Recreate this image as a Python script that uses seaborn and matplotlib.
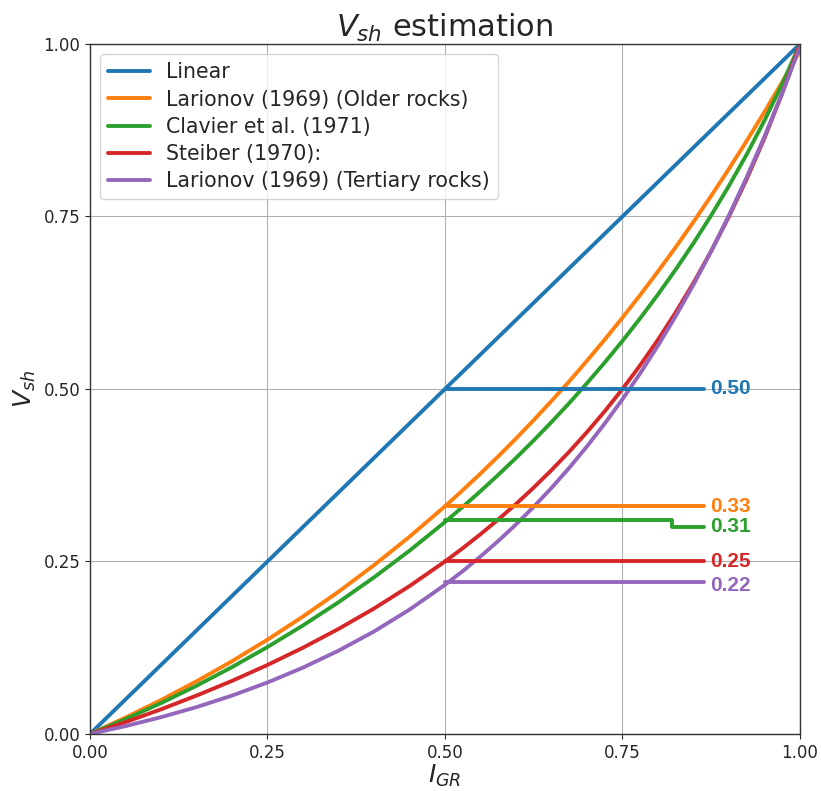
import pandas as pd
import matplotlib
matplotlib.use("Agg")
import matplotlib.pyplot as plt
import seaborn as sns

# IGR sample points and Vsh values
igr = [0.0, 0.05, 0.1, 0.15, 0.2, 0.25, 0.3, 0.35, 0.4, 0.45, 0.5,
       0.525, 0.55, 0.575, 0.6, 0.625, 0.65, 0.675, 0.7, 0.725, 0.75,
       0.775, 0.8, 0.825, 0.85, 0.875, 0.9, 0.925, 0.95, 0.975, 1.0]
linear = list(igr)
larionov_old = [0.0, 0.0237, 0.0491, 0.0763, 0.1054, 0.1367, 0.1702, 0.2061, 0.2446, 0.2858, 0.33,
                0.3533, 0.3774, 0.4023, 0.4281, 0.4549, 0.4826, 0.5110, 0.5409, 0.5716, 0.6034,
                0.6363, 0.6704, 0.7056, 0.7422, 0.7800, 0.8191, 0.8597, 0.9016, 0.9450, 0.99]
clavier = [0.0, 0.0215, 0.0447, 0.0698, 0.0969, 0.1260, 0.1573, 0.1909, 0.2269, 0.2656, 0.3072,
           0.3291, 0.3519, 0.3755, 0.4, 0.4255, 0.4520, 0.4796, 0.5084, 0.5384, 0.5697,
           0.6026, 0.6370, 0.6732, 0.7113, 0.7517, 0.7945, 0.8401, 0.8891, 0.9421, 1.0]
steiber = [0.0, 0.0172, 0.0357, 0.0556, 0.0769, 0.1, 0.125, 0.1522, 0.1818, 0.2143, 0.25,
           0.2692, 0.2895, 0.3108, 0.3333, 0.3571, 0.3824, 0.4091, 0.4375, 0.4677, 0.5,
           0.5345, 0.5714, 0.6111, 0.6538, 0.7, 0.75, 0.8043, 0.8636, 0.9286, 1.0]
larionov_tert = [0.0, 0.0114, 0.0243, 0.0389, 0.0556, 0.0746, 0.0962, 0.1207, 0.1485, 0.1802, 0.2162,
                 0.2360, 0.2572, 0.2797, 0.3037, 0.3293, 0.3566, 0.3857, 0.4168, 0.4499, 0.4851,
                 0.5228, 0.5629, 0.6056, 0.6512, 0.6998, 0.7517, 0.8070, 0.8659, 0.9287, 0.9957]

labels = ["Linear", "Larionov (1969) (Older rocks)", "Clavier et al. (1971)",
          "Steiber (1970):", "Larionov (1969) (Tertiary rocks)"]

# readings at IGR = 0.5
igr_pick = 0.5
vsh_pick = [0.50, 0.33, 0.31, 0.25, 0.22]
line_end = 0.865
green_step_x = 0.82
green_step_y = 0.30
label_y = [0.50, 0.33, 0.30, 0.25, 0.215]

colors = sns.color_palette("tab10", 5)

df = pd.concat([
    pd.DataFrame({"IGR": igr, "Vsh": vals, "method": name})
    for name, vals in zip(labels, [linear, larionov_old, clavier, steiber, larionov_tert])
])

sns.set_style("ticks")
fig = plt.figure(figsize=(8.21, 7.91), dpi=100)
ax = fig.add_axes([0.1096, 0.0721, 0.8648, 0.8723])

sns.lineplot(data=df, x="IGR", y="Vsh", hue="method", hue_order=labels,
             palette=colors, linewidth=2.8, sort=False, ax=ax)

# horizontal read-off lines from IGR = 0.5
for i, (v, c) in enumerate(zip(vsh_pick, colors)):
    if i == 2:
        xs = [igr_pick, green_step_x, green_step_x, line_end]
        ys = [v, v, green_step_y, green_step_y]
    else:
        xs = [igr_pick, line_end]
        ys = [v, v]
    ax.plot(xs, ys, color=c, linewidth=2.8)
    ax.text(line_end + 0.008, label_y[i], f"{v:.2f}", color=c, fontsize=15,
            fontweight="bold", family=["Liberation Sans", "DejaVu Sans"], va="center", ha="left")

ax.set_xlim(0, 1)
ax.set_ylim(0, 1)
ax.set_xticks([0, 0.25, 0.5, 0.75, 1.0])
ax.set_yticks([0, 0.25, 0.5, 0.75, 1.0])
ax.xaxis.set_major_formatter(matplotlib.ticker.FormatStrFormatter("%.2f"))
ax.yaxis.set_major_formatter(matplotlib.ticker.FormatStrFormatter("%.2f"))
ax.tick_params(labelsize=12)
ax.grid(True, color="#b0b0b0", linewidth=0.8)
for s in ax.spines.values():
    s.set_color("#333333")
    s.set_linewidth(1.0)

ax.set_title(r"$V_{sh}$ estimation", fontsize=22, pad=5)
ax.set_xlabel(r"$I_{GR}$", fontsize=18, labelpad=1)
ax.set_ylabel(r"$V_{sh}$", fontsize=18)
ax.legend(loc="upper left", fontsize=14.8, frameon=True, fancybox=True,
          framealpha=0.8, handlelength=2.0, labelspacing=0.35)

fig.savefig("out.png", dpi=100)
